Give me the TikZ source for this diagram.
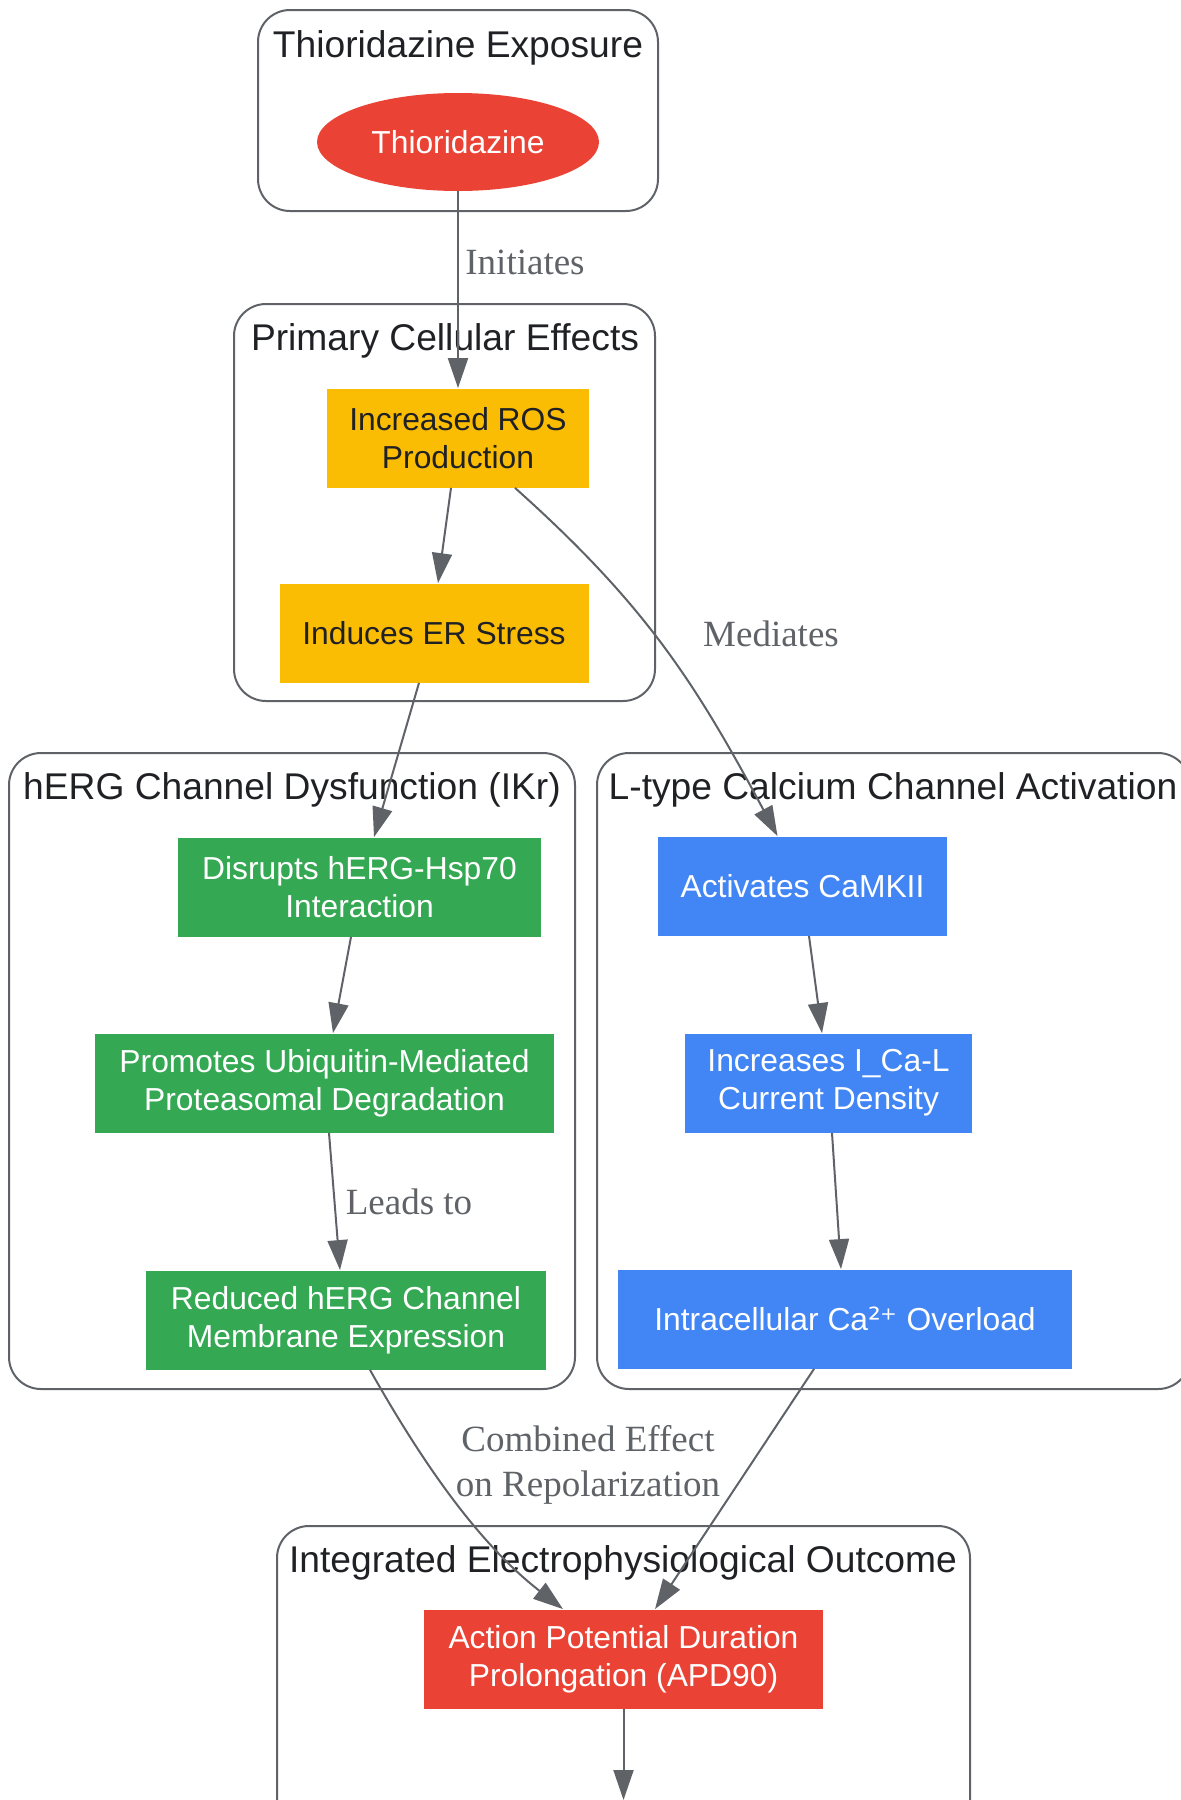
\documentclass[tikz,border=0pt]{standalone}
\usepackage{fontspec}
\setmainfont{Liberation Sans}
\newfontfamily\edgefont{Liberation Serif}
\newfontfamily\supfont{DejaVu Sans}
\usepackage{xcolor}
\usepackage{tikz}
\usetikzlibrary{shapes,shapes.geometric,arrows.meta,positioning,calc}

\definecolor{gred}{HTML}{EA4335}
\definecolor{gyellow}{HTML}{FBBC04}
\definecolor{ggreen}{HTML}{34A853}
\definecolor{gblue}{HTML}{4285F4}
\definecolor{edgegray}{HTML}{5F6368}
\definecolor{textdark}{HTML}{202124}

\begin{document}
\begin{tikzpicture}[
    x=0.5pt, y=-0.5pt,
    cluster/.style={draw=edgegray, line width=1pt, rounded corners=16pt},
    ctitle/.style={font=\fontsize{18.6}{22}\selectfont, text=textdark, inner sep=0pt},
    box/.style={rectangle, minimum height=49.5pt, inner sep=0pt, align=center, font=\fontsize{15.9}{19}\selectfont},
    stress/.style={box, fill=gyellow, text=textdark},
    herg/.style={box, fill=ggreen, text=white},
    ltype/.style={box, fill=gblue, text=white},
    outcome/.style={box, fill=gred, text=white},
    drug/.style={ellipse, fill=gred, text=white, minimum width=141pt, minimum height=49pt, inner sep=0pt, font=\fontsize{15.9}{19}\selectfont},
    flow/.style={-{Triangle[length=15pt,width=10pt]}, draw=edgegray, line width=1pt},
    elabel/.style={font=\edgefont\fontsize{18.5}{22.5}\selectfont, text=edgegray, align=center, inner sep=0pt}
]
    \useasboundingbox (0,0) rectangle (1180,1800);

    % Clusters
    \draw[cluster] (258,10) rectangle (658,211);
    \draw[cluster] (234,304) rectangle (655,701);
    \draw[cluster] (9,753) rectangle (575,1389);
    \draw[cluster] (597,753) rectangle (1190,1389);
    \draw[cluster] (277,1526) rectangle (970,1840);

    \node[ctitle] (exptitle) at (458,48) {Thioridazine Exposure};
    \node[ctitle] (primtitle) at (445,341) {Primary Cellular Effects};
    \node[ctitle] (hergtitle) at (292,790) {hERG Channel Dysfunction (IKr)};
    \node[ctitle] (caltitle) at (893,790) {L-type Calcium Channel Activation};
    \node[ctitle] (outtitle) at (623,1563) {Integrated Electrophysiological Outcome};

    % Nodes
    \node[drug] (thio) at (458,142) {Thioridazine};
    \node[stress, minimum width=131pt] (ros) at (458,438) {Increased ROS\\Production};
    \node[stress, minimum width=154.5pt] (er) at (434,633) {Induces ER Stress};
    \node[herg, minimum width=181.5pt] (disr) at (359.5,887) {Disrupts hERG-Hsp70\\Interaction};
    \node[herg, minimum width=229.5pt] (prom) at (324.5,1083) {Promotes Ubiquitin-Mediated\\Proteasomal Degradation};
    \node[herg, minimum width=200pt] (red) at (346,1320) {Reduced hERG Channel\\Membrane Expression};
    \node[ltype, minimum width=144.5pt] (camk) at (802.5,886) {Activates CaMKII};
    \node[ltype, minimum width=143.5pt] (inc) at (828.5,1083) {Increases I\_Ca-L\\Current Density};
    \node[ltype, minimum width=227pt] (intra) at (845,1319) {Intracellular Ca{\supfont ²⁺} Overload};
    \node[outcome, minimum width=199.5pt] (apd) at (623.5,1659) {Action Potential Duration\\Prolongation (APD90)};
    \coordinate (apdnext) at (623.5,1800);

    % Connectors
    \draw[flow] (thio.south) -- (ros.north);
    \draw[flow] ($(ros.south)+(-7,0)$) -- ($(er.north)+(4,0)$);
    \draw[flow] ($(ros.south)+(57,0)$) .. controls (645,604) and (695,682) .. ($(camk.north)+(-25,0)$);
    \draw[flow] ($(er.south)+(-15,0)$) -- ($(disr.north)+(14.5,0)$);
    \draw[flow] ($(disr.south)+(-8.5,0)$) -- ($(prom.north)+(8.5,0)$);
    \draw[flow] ($(prom.south)+(4.5,0)$) -- ($(red.north)+(-6,0)$);
    \draw[flow] ($(camk.south)+(6.5,0)$) -- ($(inc.north)+(-6.5,0)$);
    \draw[flow] ($(inc.south)+(3.5,0)$) -- ($(intra.north)+(-4,0)$);
    \draw[flow] ($(red.south)+(24,0)$) .. controls (422,1462) and (478,1543) .. ($(apd.north)+(-60.5,0)$);
    \draw[flow] ($(intra.south)+(-31,0)$) -- ($(apd.north)+(31.5,0)$);
    \draw[flow] (apd.south) -- (apdnext);

    % Labels
    \node[elabel] (initlbl) at (525,262) {Initiates};
    \node[elabel] (medlbl) at (771,634) {Mediates};
    \node[elabel] (leadlbl) at (409,1202) {Leads to};
    \node[elabel] (comblbl) at (588,1465) {Combined Effect\\on Repolarization};
\end{tikzpicture}
\end{document}
